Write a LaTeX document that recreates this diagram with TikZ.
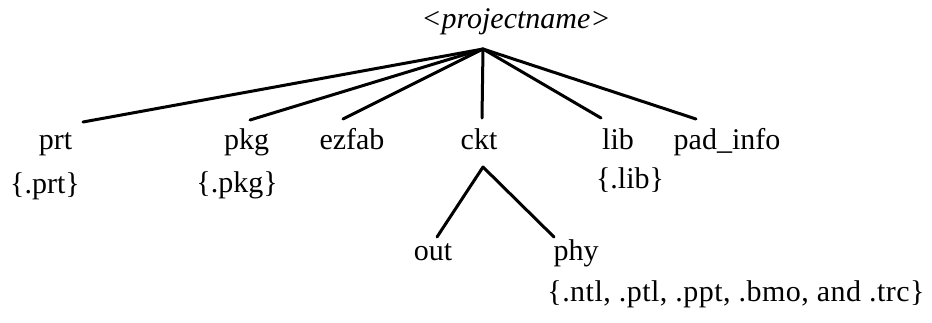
\documentclass[tikz,border=0pt]{standalone}
\usepackage{fontspec}
\setmainfont{Liberation Serif}
\begin{document}
\begin{tikzpicture}[x=1pt,y=-1pt,
  lbl/.style={anchor=base,inner sep=0pt,font=\fontsize{30}{36}\selectfont},
  edge/.style={line width=3pt,line cap=round,line join=round}]
\useasboundingbox (0,0) rectangle (932,322);
% root
\node[lbl,font=\fontsize{30}{36}\selectfont\itshape] (root) at (516,28) {<projectname>};
\coordinate (hub) at ([xshift=-33pt,yshift=-21pt]root.base);
% first level
\node[lbl] (prt) at (55.5,149) {prt};
\node[lbl] (pkg) at (246.5,149) {pkg};
\node[lbl] (ezfab) at (352,149) {ezfab};
\node[lbl] (ckt) at (479,149) {ckt};
\node[lbl] (lib) at (618,149) {lib};
\node[lbl] (pad) at (727,149) {pad\_info};
% extensions
\node[lbl] (prtext) at (45,193) {\{.prt\}};
\node[lbl] (pkgext) at (237,192) {\{.pkg\}};
\node[lbl] (libext) at (630,188) {\{.lib\}};
% second level
\node[lbl] (out) at (433,260) {out};
\node[lbl] (phy) at (576,260) {phy};
\node[lbl,font=\fontsize{30}{36}\selectfont\addfontfeature{LetterSpace=1.6}] (phyext) at (736,301) {\{.ntl, .ptl, .ppt, .bmo, and .trc\}};
% connectors
\draw[edge] (hub) -- ([xshift=27.5pt,yshift=27pt]prt.base);
\draw[edge] (hub) -- ([xshift=3.5pt,yshift=29pt]pkg.base);
\draw[edge] (hub) -- ([xshift=-9pt,yshift=30pt]ezfab.base);
\draw[edge] (hub) -- ([xshift=3pt,yshift=31pt]ckt.base);
\draw[edge] (hub) -- ([xshift=-17pt,yshift=31pt]lib.base);
\draw[edge] (hub) -- ([xshift=-31pt,yshift=30pt]pad.base);
\coordinate (split) at ([xshift=4pt,yshift=-18pt]ckt.base);
\draw[edge] ([xshift=4pt,yshift=23pt]out.base) -- (split) -- ([xshift=-22pt,yshift=23pt]phy.base);
\end{tikzpicture}
\end{document}
